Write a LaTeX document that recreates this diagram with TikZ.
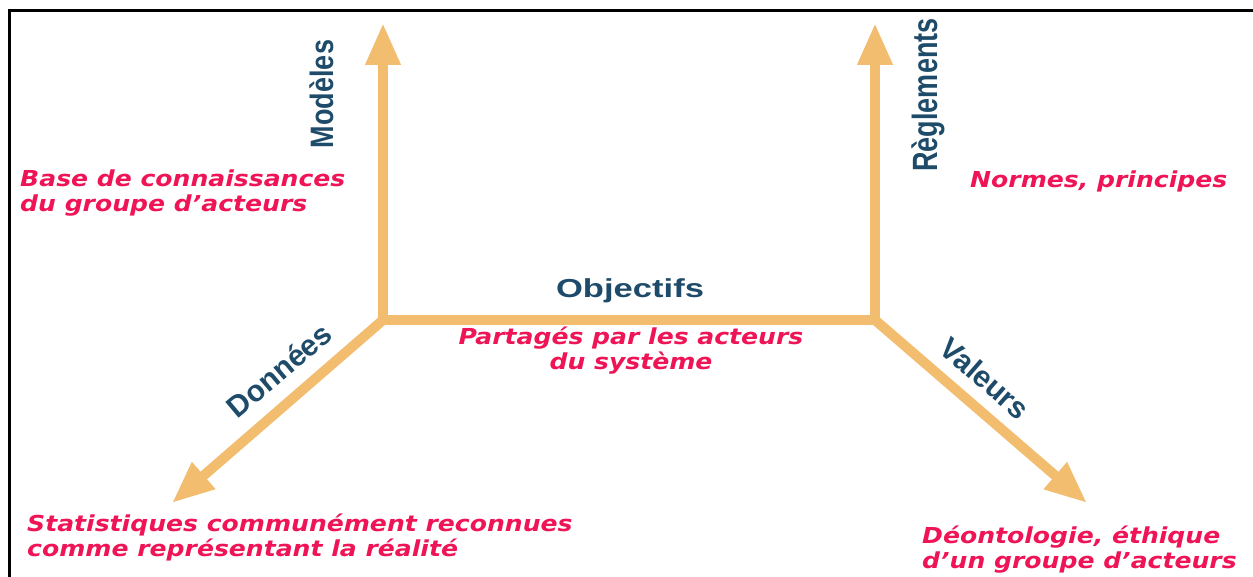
\documentclass[tikz,border=0pt]{standalone}
\usepackage{fontspec}
\usetikzlibrary{arrows.meta}
\newfontfamily\axisfont{Liberation Sans}
\newfontfamily\notefont{DejaVu Sans}
\definecolor{axisorange}{RGB}{242,189,110}
\definecolor{axisblue}{RGB}{30,75,105}
\definecolor{notered}{RGB}{238,20,86}
\begin{document}
\begin{tikzpicture}[x=1pt,y=-1pt,
  axis/.style={draw=axisorange, line width=10pt, line join=miter},
  headend/.style={-{Triangle[width=33pt,length=42pt]}},
  headboth/.style={{Triangle[width=33pt,length=42pt]}-{Triangle[width=33pt,length=42pt]}},
  axislabel/.style={text=axisblue, inner sep=0pt},
  note/.style={text=notered, inner sep=0pt, xscale=1.14,
    font=\notefont\bfseries\itshape\fontsize{22}{24.5}\selectfont}]
\useasboundingbox (0,0) rectangle (1253,577);
% frame lines along the top and left edges
\draw[line width=3pt] (9,577) -- (9,11) -- (1253,11);

% axis end points and junctions
\coordinate (jl) at (383,320);
\coordinate (jr) at (875,320);
\coordinate (tl) at (383,23);
\coordinate (tr) at (875,23);
\coordinate (dl) at (172,503);
\coordinate (dr) at (1087,503);

% the orange axes
\draw[axis, headboth] (tl) -- (jl) -- (jr) -- (tr);
\draw[axis, headend] (jl) -- (dl);
\draw[axis, headend] (jr) -- (dr);

% axis names
\node[axislabel, anchor=base, rotate=90, yscale=1.2,
  font=\axisfont\bfseries\fontsize{27}{30}\selectfont] (modeles) at (333,94) {Modèles};
\node[axislabel, anchor=base, rotate=90, yscale=1.3,
  font=\axisfont\bfseries\fontsize{27}{30}\selectfont] (reglements) at (937,95) {Règlements};
\node[axislabel, anchor=base, xscale=1.33,
  font=\axisfont\bfseries\fontsize{26}{28}\selectfont] (objectifs) at (630,298) {Objectifs};
\node[axislabel, anchor=center, rotate=40,
  font=\axisfont\bfseries\fontsize{30}{32}\selectfont] (donnees) at (279,370) {Données};
\node[axislabel, anchor=center, rotate=-41,
  font=\axisfont\bfseries\fontsize{30}{32}\selectfont] (valeurs) at (985,378) {Valeurs};

% notes
\node[note, align=left, anchor=north west] (base) at (20,170)
  {Base de connaissances\\du groupe d’acteurs};
\node[note, align=left, anchor=north west] (normes) at (970,171)
  {Normes, principes};
\node[note, align=center, anchor=north] (partages) at (631,327)
  {Partagés par les acteurs\\du système};
\node[note, align=left, anchor=north west] (stats) at (27,514)
  {Statistiques communément reconnues\\comme représentant la réalité};
\node[note, align=left, anchor=north west] (deonto) at (922,526)
  {Déontologie, éthique\\d’un groupe d’acteurs};
\end{tikzpicture}
\end{document}
